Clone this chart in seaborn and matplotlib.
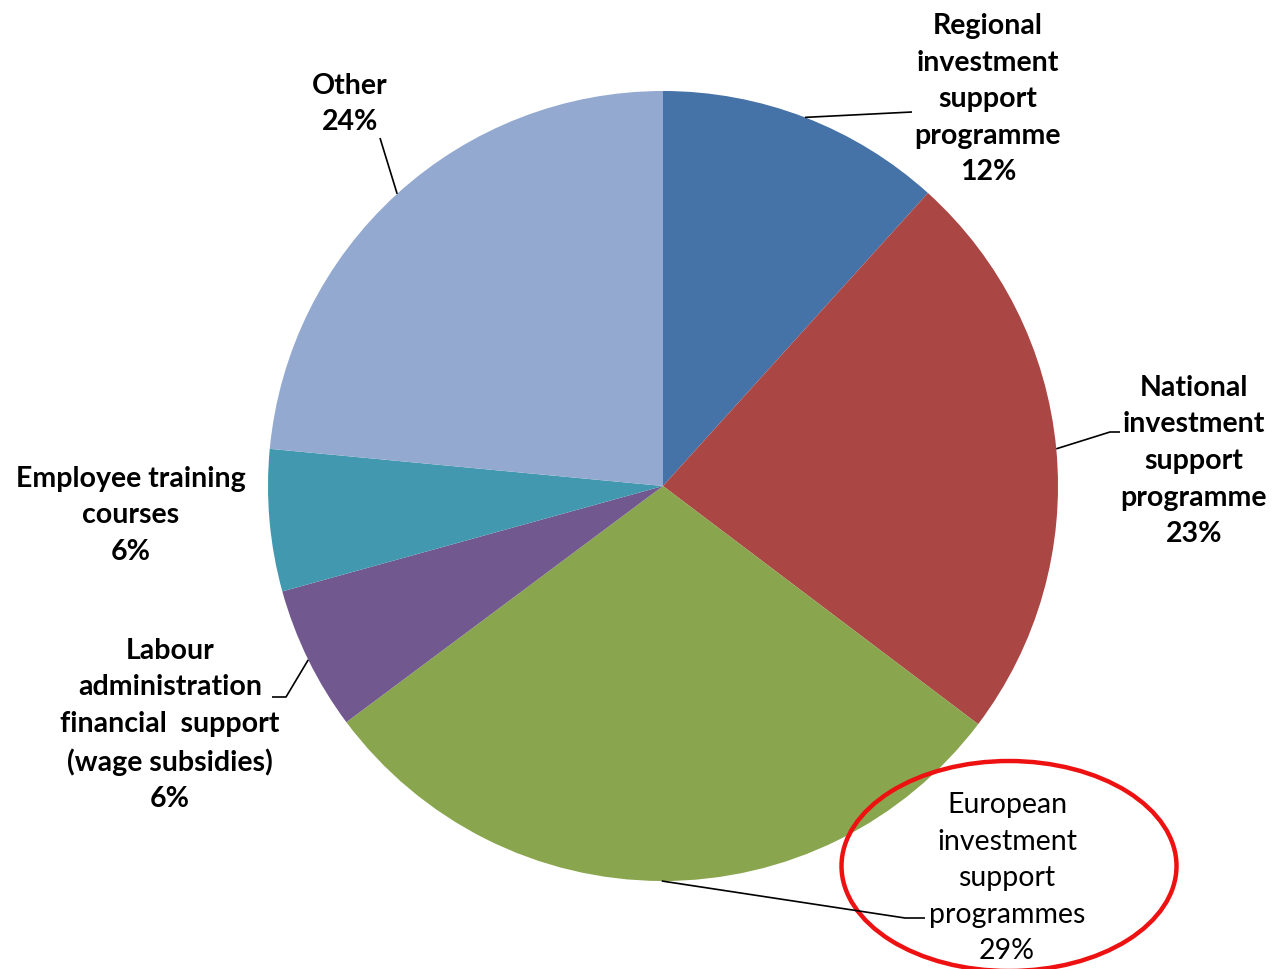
import matplotlib
matplotlib.use("Agg")
import matplotlib.pyplot as plt
import seaborn as sns
import numpy as np
from matplotlib.patches import Ellipse

sns.set_theme(style="white")
plt.rcParams['font.family'] = ['Lato', 'DejaVu Sans']

categories = ["Regional\ninvestment\nsupport\nprogramme",
              "National\ninvestment\nsupport\nprogramme",
              "European\ninvestment\nsupport\nprogrammes",
              "Labour\nadministration\nfinancial  support\n(wage subsidies)",
              "Employee training\ncourses",
              "Other"]
values = [11.7, 23.6, 29.5, 5.9, 5.8, 23.5]
pct_labels = ["12%", "23%", "29%", "6%", "6%", "24%"]
colors = ["#4572A7", "#AA4643", "#89A54E", "#71588F", "#4198AF", "#93A9CF"]

W, H = 1276, 969
fig = plt.figure(figsize=(W / 100, H / 100), dpi=100)
ax = fig.add_axes([0, 0, 1, 1])
ax.axis('off')

cx, cy, r = 663, H - 486, 395
wedges, _ = ax.pie(values, colors=sns.color_palette(colors), startangle=90,
                   counterclock=False, center=(cx, cy), radius=r,
                   wedgeprops=dict(linewidth=0))
ax.set_xlim(0, W)
ax.set_ylim(0, H)
ax.set_aspect('equal')

# label positions (pixel coords, top-left origin) and leader line bends
label_pos = [(988, 99), (1194, 461), (1007, 878), (170, 725), (131, 515), (350, 104)]
leader = [[(912, 112)],
          [(1110, 432), (1120, 432)],
          [(905, 918), (925, 918)],
          [(286, 697), (272, 697)],
          None,
          [(380, 138)]]
weights = ['bold', 'bold', 'normal', 'bold', 'bold', 'bold']

cum = np.cumsum([0] + values)
total = sum(values)
for i, (cat, v) in enumerate(zip(categories, values)):
    mid = (cum[i] + v / 2) / total * 360
    ang = np.deg2rad(90 - mid)
    sx, sy = cx + r * np.cos(ang), cy + r * np.sin(ang)
    if leader[i] is not None:
        xs = [sx] + [p[0] for p in leader[i]]
        ys = [sy] + [H - p[1] for p in leader[i]]
        ax.plot(xs, ys, color='black', lw=1.2, solid_capstyle='butt')
    lx, ly = label_pos[i]
    ax.text(lx, H - ly, f"{cat}\n{pct_labels[i]}", ha='center', va='center',
            fontsize=20.5, fontweight=weights[i], linespacing=1.5, color='black')

ax.add_patch(Ellipse((1009, H - 866), 335, 210, fill=False,
                     edgecolor='#EE1111', lw=3.2))

fig.savefig("out.png", dpi=100)
